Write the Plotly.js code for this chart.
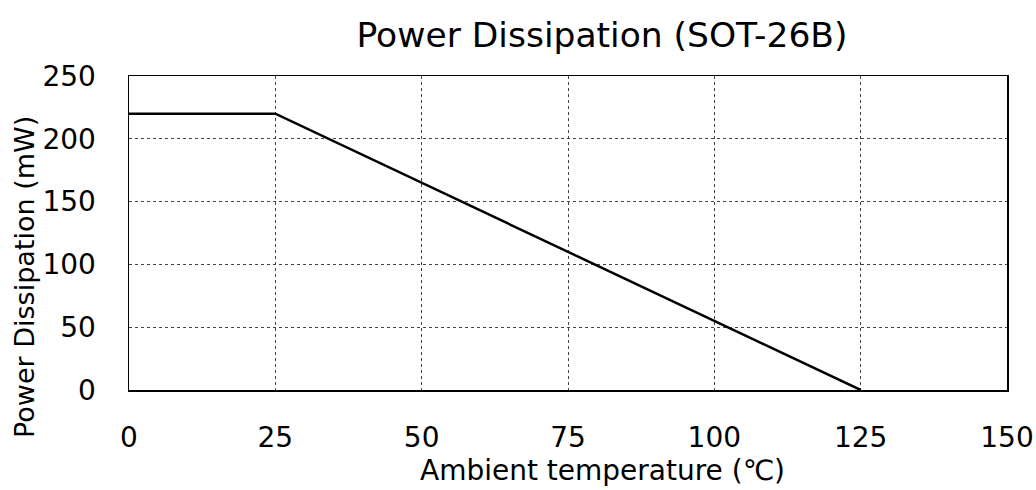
<!DOCTYPE html>
<html><head><meta charset="utf-8">
<script src="https://cdn.plot.ly/plotly-3.0.1.min.js"></script>
<style>body{margin:0;padding:0;background:#fff}#chart{width:1036px;height:490px}</style>
</head><body><div id="chart"></div>
<script>
const temperature = [0, 25, 125];
const power = [220, 220, 0];
const xTicks = [0, 25, 50, 75, 100, 125, 150];
const yTicks = [0, 50, 100, 150, 200, 250];
const fontFam = "DejaVu Sans, Verdana, sans-serif";

const trace = {x: temperature, y: power, mode: 'lines', line: {color: '#000', width: 2.5}, hoverinfo: 'skip'};
const layout = {
  width: 1036, height: 490,
  margin: {l: 129, r: 29, t: 76, b: 100},
  paper_bgcolor: '#fff', plot_bgcolor: '#fff',
  showlegend: false,
  font: {family: fontFam, color: '#000', size: 27},
  title: {text: 'Power Dissipation (SOT-26B)', font: {size: 34.5, family: fontFam, color: '#000'}, x: 602/1036, xanchor: 'center', y: 455/490, yanchor: 'middle', xref: 'container', yref: 'container'},
  xaxis: {
    range: [0, 150], tickvals: xTicks, ticktext: xTicks.map(String),
    showgrid: true, gridcolor: '#444', griddash: 'dot', gridwidth: 1,
    showline: true, linecolor: '#000', linewidth: 1.5, mirror: true,
    ticks: '', zeroline: false, tickfont: {size: 28}, ticklabelstandoff: 22
  },
  yaxis: {
    range: [0, 250], tickvals: yTicks, ticktext: yTicks.map(String),
    showgrid: true, gridcolor: '#444', griddash: 'dot', gridwidth: 1,
    showline: true, linecolor: '#000', linewidth: 1.5, mirror: true,
    ticks: '', zeroline: false, tickfont: {size: 28}, ticklabelstandoff: 26
  },
  annotations: [
    {text: 'Ambient temperature (℃)', xref: 'paper', yref: 'paper', x: (602-129)/878, y: (390-470)/314,
     xanchor: 'center', yanchor: 'middle', showarrow: false, font: {size: 28}},
    {text: 'Power Dissipation (mW)', xref: 'paper', yref: 'paper', x: (24-129)/878, y: (390-277)/314,
     xanchor: 'center', yanchor: 'middle', showarrow: false, textangle: -90, font: {size: 27}}
  ]
};
Plotly.newPlot('chart', [trace], layout, {staticPlot: true, displayModeBar: false});
</script></body></html>
